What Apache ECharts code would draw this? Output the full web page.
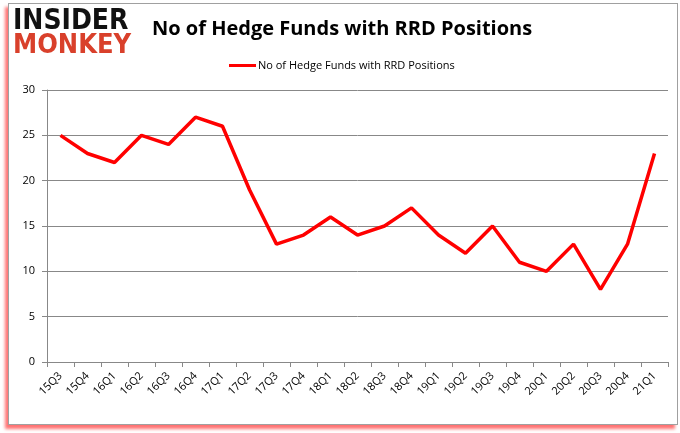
<!DOCTYPE html>
<html><head><meta charset="utf-8">
<script src="https://cdn.jsdelivr.net/npm/echarts@6/dist/echarts.min.js"></script>
<style>
html,body{margin:0;padding:0;background:#fff;}
#frame{position:absolute;left:8px;top:3px;width:668px;height:420px;border:1px solid #a0a0a0;box-shadow:-3px 4px 3px rgba(255,0,0,0.55);background:#fff;}
#c{position:absolute;left:0;top:0;width:680px;height:433px;}
</style></head>
<body><div id="frame"></div><div id="c"></div>
<script>
var categories = ['15Q3','15Q4','16Q1','16Q2','16Q3','16Q4','17Q1','17Q2','17Q3','17Q4','18Q1','18Q2','18Q3','18Q4','19Q1','19Q2','19Q3','19Q4','20Q1','20Q2','20Q3','20Q4','21Q1'];
var values = [25,23,22,25,24,27,26,19,13,14,16,14,15,17,14,12,15,11,10,13,8,13,23];
var seriesName = 'No of Hedge Funds with RRD Positions';
var titleText = 'No of Hedge Funds with RRD Positions';

var chart = echarts.init(document.getElementById('c'));
chart.setOption({
  animation:false,
  title:{text:titleText,left:147,top:14,textStyle:{fontFamily:'Open Sans',fontSize:20,fontWeight:'bold',color:'#000'}},
  legend:{data:[seriesName],top:55,left:224,itemWidth:27,itemHeight:3,itemGap:4,icon:'rect',textStyle:{fontFamily:'Open Sans',fontSize:11,color:'#000',padding:[0,0,0,-3]}},
  graphic:[
    {type:'text',left:13,top:8,style:{text:'INSIDER',font:'900 28px "DejaVu Sans Condensed"',fill:'#111'}},
    {type:'text',left:13,top:32,style:{text:'MONKEY',font:'900 27px "DejaVu Sans Condensed"',fill:'#d9402b'}}
  ],
  grid:{left:47,right:12,top:90,bottom:71},
  xAxis:{type:'category',data:categories,boundaryGap:true,
    axisLine:{lineStyle:{color:'#888'}},axisTick:{show:true,alignWithLabel:false,length:5,lineStyle:{color:'#888'}},
    axisLabel:{rotate:45,color:'#000',fontFamily:'Open Sans',fontSize:11,margin:12,interval:0}},
  yAxis:{type:'value',min:0,max:30,interval:5,
    axisLine:{show:true,lineStyle:{color:'#888'}},axisTick:{show:true,length:5,lineStyle:{color:'#888'}},
    splitLine:{lineStyle:{color:'#888'}},
    axisLabel:{color:'#000',fontFamily:'Open Sans',fontSize:11,margin:12}},
  series:[{name:seriesName,type:'line',data:values,symbol:'none',lineStyle:{color:'#ff0000',width:3.5},itemStyle:{color:'#ff0000'}}]
});
</script></body></html>
